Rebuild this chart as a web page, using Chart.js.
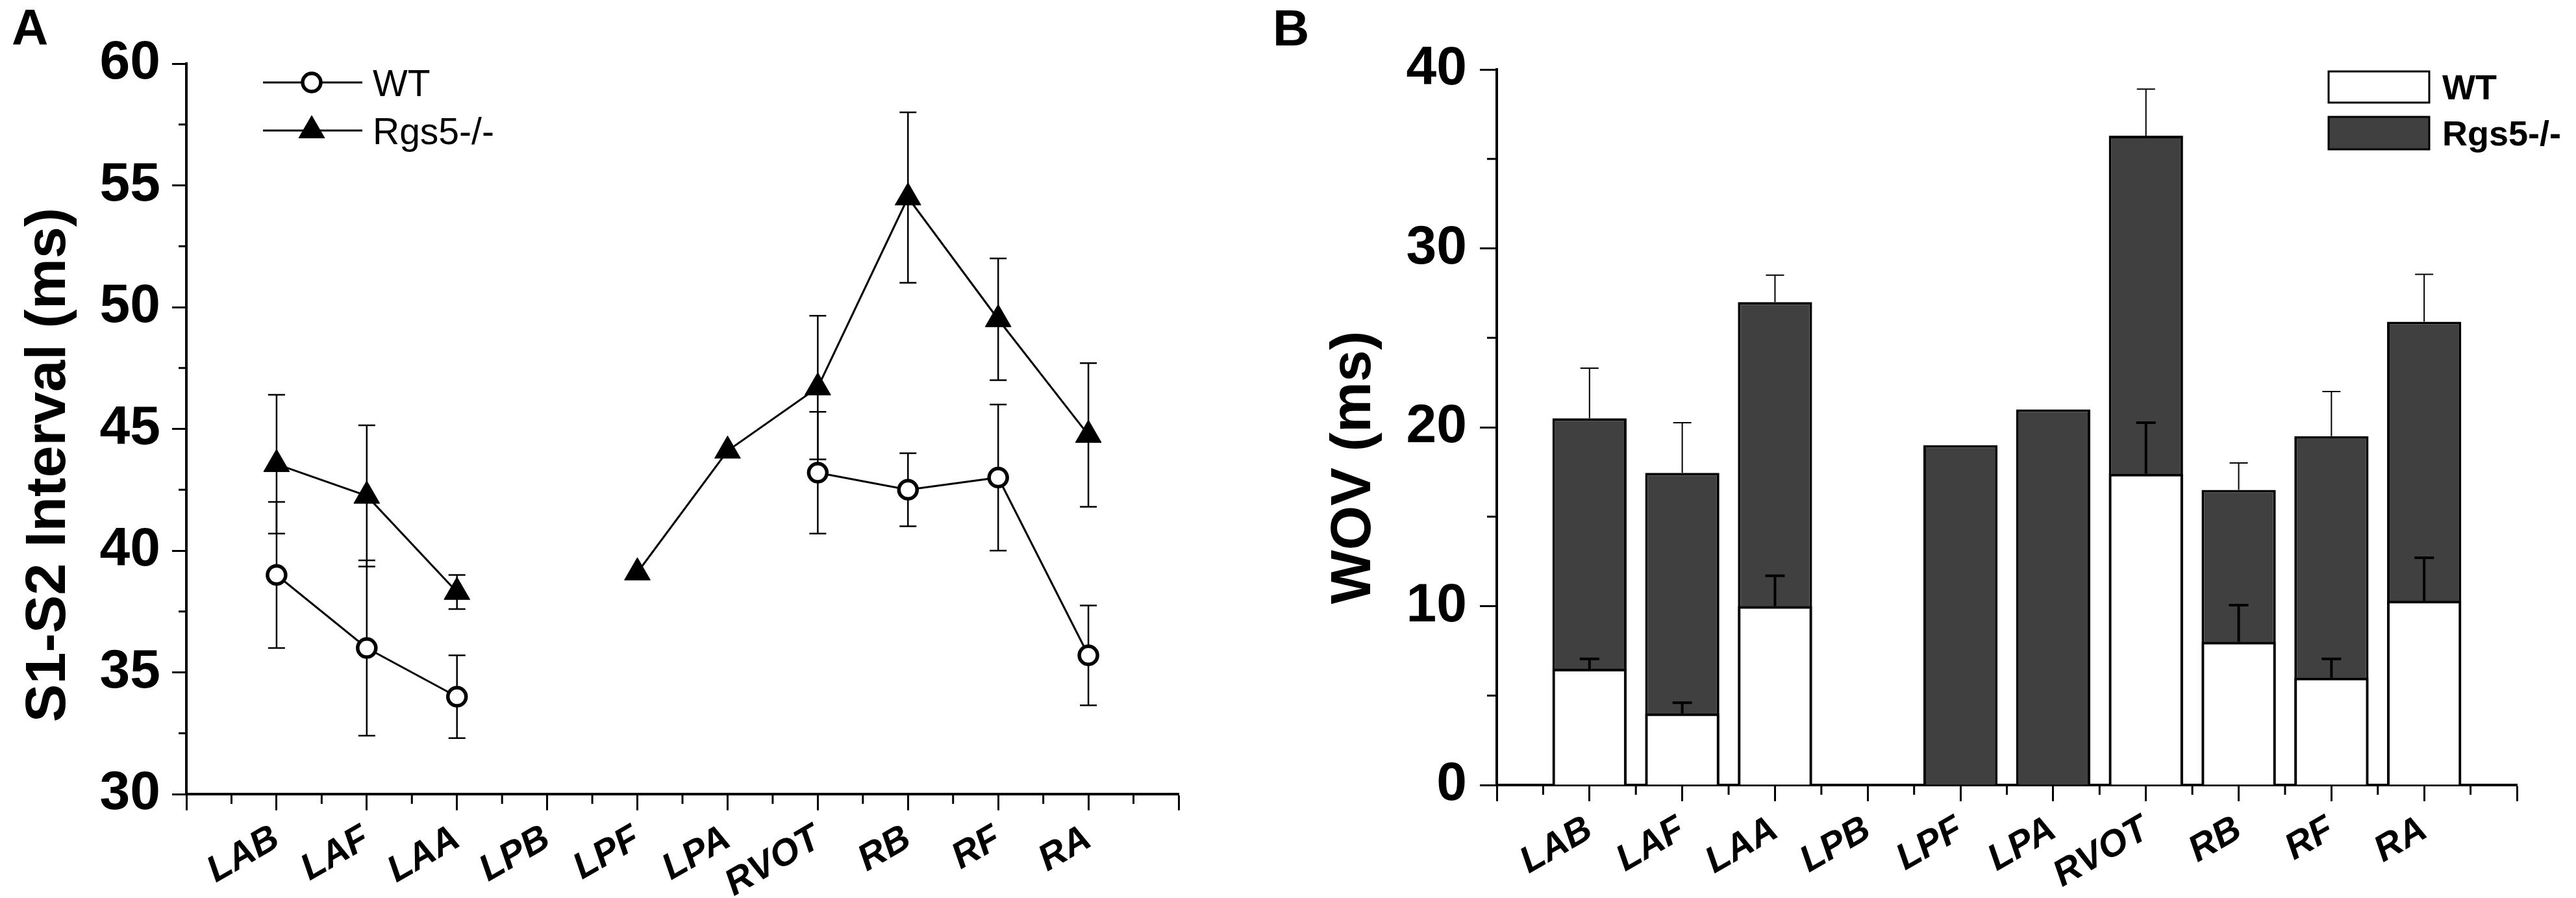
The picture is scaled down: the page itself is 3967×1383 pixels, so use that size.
<!DOCTYPE html>
<html><head><meta charset="utf-8">
<script src="https://cdn.jsdelivr.net/npm/chart.js@4.4.1/dist/chart.umd.min.js"></script>
<style>
html,body{margin:0;padding:0;background:#fff;width:3967px;height:1383px;overflow:hidden}
#wa{position:absolute;left:0;top:0;width:1940px;height:1383px}
#wb{position:absolute;left:1940px;top:0;width:2027px;height:1383px}
canvas{display:block}
</style></head><body>
<div id="wa"><canvas id="ca" width="1940" height="1383"></canvas></div>
<div id="wb"><canvas id="cb" width="2027" height="1383"></canvas></div>
<script>
// ---------- data ----------
const categories = ['LAB','LAF','LAA','LPB','LPF','LPA','RVOT','RB','RF','RA'];
const seriesNames = ['WT','Rgs5-/-'];
// Panel A: S1-S2 interval (ms), mean and SEM
const wtInterval     = [39.0, 36.0, 34.0, null, null, null, 43.2, 42.5, 43.0, 35.7];
const wtIntervalErr  = [3.0, 3.6, 1.7, null, null, null, 2.5, 1.5, 3.0, 2.05];
const rgsInterval    = [43.55, 42.25, 38.3, null, 39.1, 44.1, 46.7, 54.5, 49.5, 44.75];
const rgsIntervalErr = [2.85, 2.9, 0.7, null, null, null, 2.95, 3.5, 2.5, 2.95];
const intervalTicks  = [30, 35, 40, 45, 50, 55, 60];
// Panel B: WOV (ms), mean and SEM
const wtWov     = [6.5, 4.0, 10.0, null, null, null, 17.4, 8.0, 6.0, 10.3];
const wtWovErr  = [0.55, 0.6, 1.7, null, null, null, 2.85, 2.05, 1.05, 2.4];
const rgsWov    = [20.5, 17.45, 27.0, null, 19.0, 21.0, 36.3, 16.5, 19.5, 25.9];
const rgsWovErr = [2.8, 2.8, 1.5, null, null, null, 2.6, 1.5, 2.5, 2.65];
const wovTicks  = [0, 10, 20, 30, 40];

const FAM = "'Liberation Sans', Arial, Helvetica, sans-serif";
const xTickValues = [-1].concat(categories.map((c, i) => i), [categories.length]);

// ---------- plugins ----------
function drawErrors(chart, opts) {
  const ctx = chart.ctx, ys = chart.scales.y;
  chart.data.datasets.forEach((ds, di) => {
    if (!ds.errors) return;
    const meta = chart.getDatasetMeta(di);
    ctx.save();
    ctx.strokeStyle = '#000';
    ctx.lineWidth = ds.errorWidth || 2;
    ds.errors.forEach((e, i) => {
      const pt = ds.data[i];
      if (e == null || pt == null || pt.y == null) return;
      const el = meta.data[i];
      const x = el.x;
      const y0 = ys.getPixelForValue(pt.y);
      const yTop = ys.getPixelForValue(pt.y + e);
      const yBot = opts.both ? ys.getPixelForValue(pt.y - e) : y0;
      const c = ds.capHalf || 13;
      ctx.beginPath();
      ctx.moveTo(x, yBot); ctx.lineTo(x, yTop);
      ctx.moveTo(x - c, yTop); ctx.lineTo(x + c, yTop);
      if (opts.both) { ctx.moveTo(x - c, yBot); ctx.lineTo(x + c, yBot); }
      ctx.stroke();
    });
    ctx.restore();
  });
}
const errorBarsPlugin = {
  id: 'errorBars',
  beforeDatasetsDraw(chart, args, opts) { if (opts.layer === 'below') drawErrors(chart, opts); },
  afterDatasetsDraw(chart, args, opts) { if (opts.layer !== 'below') drawErrors(chart, opts); }
};
const minorTicksPlugin = {
  id: 'minorTicks',
  afterDraw(chart, args, opts) {
    const ctx = chart.ctx, xs = chart.scales.x, ys = chart.scales.y;
    ctx.save(); ctx.strokeStyle = '#000'; ctx.lineWidth = opts.width || 3;
    const xt = xs.ticks.map(t => t.value);
    for (let i = 0; i < xt.length - 1; i++) {
      const px = xs.getPixelForValue((xt[i] + xt[i + 1]) / 2);
      ctx.beginPath(); ctx.moveTo(px, xs.top); ctx.lineTo(px, xs.top + opts.xLen); ctx.stroke();
    }
    const yt = ys.ticks.map(t => t.value);
    for (let i = 0; i < yt.length - 1; i++) {
      const py = ys.getPixelForValue((yt[i] + yt[i + 1]) / 2);
      ctx.beginPath(); ctx.moveTo(ys.right, py); ctx.lineTo(ys.right - opts.yLen, py); ctx.stroke();
    }
    ctx.restore();
  }
};
function drawMarker(ctx, style, r, x, y, fill, stroke, bw) {
  ctx.save(); ctx.beginPath();
  if (style === 'triangle') {
    const a = 2 * Math.PI / 3;
    ctx.moveTo(x, y - r);
    ctx.lineTo(x + r * Math.sin(a), y - r * Math.cos(a));
    ctx.lineTo(x + r * Math.sin(2 * a), y - r * Math.cos(2 * a));
    ctx.closePath();
  } else {
    ctx.arc(x, y, r, 0, 2 * Math.PI);
  }
  ctx.fillStyle = fill; ctx.fill();
  if (bw > 0) { ctx.lineWidth = bw; ctx.strokeStyle = stroke; ctx.stroke(); }
  ctx.restore();
}
function drawVTitle(ctx, text, x, y, size) {
  ctx.save();
  ctx.translate(x, y); ctx.rotate(-Math.PI / 2);
  ctx.font = 'bold ' + size + 'px ' + FAM;
  ctx.fillStyle = '#000'; ctx.textAlign = 'center'; ctx.textBaseline = 'alphabetic';
  ctx.fillText(text, 0, 0);
  ctx.restore();
}
const textAPlugin = {
  id: 'textA',
  afterDraw(chart) {
    const ctx = chart.ctx;
    ctx.save();
    ctx.fillStyle = '#000';
    ctx.font = 'bold 78px ' + FAM; ctx.textAlign = 'left'; ctx.textBaseline = 'alphabetic';
    ctx.fillText('A', 18, 69);
    drawVTitle(ctx, 'S1-S2 Interval (ms)', 100, 716, 88);
    // legend
    const rows = [127, 201];
    chart.data.datasets.forEach((ds, i) => {
      const y = rows[i];
      ctx.strokeStyle = '#000'; ctx.lineWidth = 3;
      ctx.beginPath(); ctx.moveTo(405, y); ctx.lineTo(558, y); ctx.stroke();
      drawMarker(ctx, ds.pointStyle, ds.pointRadius, 480, y, ds.pointBackgroundColor, ds.pointBorderColor, ds.pointBorderWidth);
      ctx.fillStyle = '#000'; ctx.font = '57px ' + FAM; ctx.textAlign = 'left';
      ctx.fillText(ds.label, 574, y + 21);
    });
    ctx.restore();
  }
};
const textBPlugin = {
  id: 'textB',
  afterDraw(chart) {
    const ctx = chart.ctx;
    ctx.save();
    ctx.fillStyle = '#000';
    ctx.font = 'bold 78px ' + FAM; ctx.textAlign = 'left'; ctx.textBaseline = 'alphabetic';
    ctx.fillText('B', 20, 70);
    drawVTitle(ctx, 'WOV (ms)', 170, 720, 88);
    const rows = [[110, 48], [180, 50]];
    chart.data.datasets.forEach((ds, i) => {
      const [y, h] = rows[i];
      ctx.fillStyle = ds.backgroundColor; ctx.fillRect(1646, y, 155, h);
      ctx.strokeStyle = '#000'; ctx.lineWidth = 3; ctx.strokeRect(1646, y, 155, h);
      ctx.fillStyle = '#000'; ctx.font = 'bold 54px ' + FAM; ctx.textAlign = 'left';
      ctx.fillText(ds.label, 1821, y + h / 2 + 19);
    });
    ctx.restore();
  }
};

// ---------- shared scale pieces ----------
function xScale(height) {
  return {
    type: 'linear', min: -1, max: categories.length, offset: false,
    afterBuildTicks: s => { s.ticks = xTickValues.map(v => ({ value: v })); },
    afterFit: s => { s.height = height; },
    grid: { display: true, drawOnChartArea: false, offset: false, tickLength: 25, tickWidth: 3, tickColor: '#000' },
    border: { display: true, color: '#000', width: 4 },
    ticks: {
      autoSkip: false, minRotation: 30, maxRotation: 30, padding: 10, color: '#000',
      font: { family: FAM, size: 57, weight: 'bold', style: 'italic' },
      callback: v => (categories[v] !== undefined ? categories[v] : '')
    }
  };
}
function yScale(min, max, tickVals, width, tickLen, pad) {
  return {
    type: 'linear', min: min, max: max,
    afterBuildTicks: s => { s.ticks = tickVals.map(v => ({ value: v })); },
    afterFit: s => { s.width = width; },
    grid: { display: true, drawOnChartArea: false, tickLength: tickLen, tickWidth: 3, tickColor: '#000' },
    border: { display: true, color: '#000', width: 4 },
    ticks: { padding: pad, color: '#000', font: { family: FAM, size: 84, weight: 'bold' } }
  };
}

// ---------- Panel A ----------
new Chart(document.getElementById('ca'), {
  type: 'line',
  data: {
    datasets: [
      {
        label: seriesNames[0],
        data: categories.map((c, i) => ({ x: i, y: wtInterval[i] })),
        errors: wtIntervalErr, errorWidth: 2.5, capHalf: 13,
        borderColor: '#000', borderWidth: 3, fill: false, tension: 0, spanGaps: false,
        pointStyle: 'circle', pointRadius: 14, pointBorderWidth: 5.5,
        pointBackgroundColor: '#fff', pointBorderColor: '#000'
      },
      {
        label: seriesNames[1],
        data: categories.map((c, i) => ({ x: i, y: rgsInterval[i] })),
        errors: rgsIntervalErr, errorWidth: 2.5, capHalf: 13,
        borderColor: '#000', borderWidth: 3, fill: false, tension: 0, spanGaps: false,
        pointStyle: 'triangle', pointRadius: 23, pointBorderWidth: 1,
        pointBackgroundColor: '#000', pointBorderColor: '#000'
      }
    ]
  },
  options: {
    responsive: false, animation: false, devicePixelRatio: 1,
    layout: { padding: { left: 0, top: 98, right: 125, bottom: 0 } },
    plugins: {
      legend: { display: false }, tooltip: { enabled: false },
      errorBars: { layer: 'below', both: true },
      minorTicks: { xLen: 15, yLen: 12, width: 3 }
    },
    scales: {
      x: xScale(160),
      y: yScale(30, 60, intervalTicks, 287, 22, 18)
    }
  },
  plugins: [errorBarsPlugin, minorTicksPlugin, textAPlugin]
});

// ---------- Panel B ----------
new Chart(document.getElementById('cb'), {
  type: 'bar',
  data: {
    datasets: [
      {
        label: seriesNames[0],
        data: categories.map((c, i) => ({ x: i, y: wtWov[i] })),
        errors: wtWovErr, errorWidth: 4, capHalf: 15,
        backgroundColor: '#ffffff', borderColor: '#000', borderWidth: 4,
        grouped: false, barPercentage: 0.8, categoryPercentage: 1
      },
      {
        label: seriesNames[1],
        data: categories.map((c, i) => ({ x: i, y: rgsWov[i] })),
        errors: rgsWovErr, errorWidth: 2, capHalf: 14,
        backgroundColor: '#404040', borderColor: '#000', borderWidth: 4,
        grouped: false, barPercentage: 0.8, categoryPercentage: 1
      }
    ]
  },
  options: {
    responsive: false, animation: false, devicePixelRatio: 1,
    layout: { padding: { left: 0, top: 107, right: 91, bottom: 0 } },
    plugins: {
      legend: { display: false }, tooltip: { enabled: false },
      errorBars: { layer: 'above', both: false },
      minorTicks: { xLen: 15, yLen: 15, width: 3 }
    },
    scales: {
      x: xScale(174),
      y: yScale(0, 40, wovTicks, 365, 26, 20)
    }
  },
  plugins: [errorBarsPlugin, minorTicksPlugin, textBPlugin]
});
</script>
</body></html>
